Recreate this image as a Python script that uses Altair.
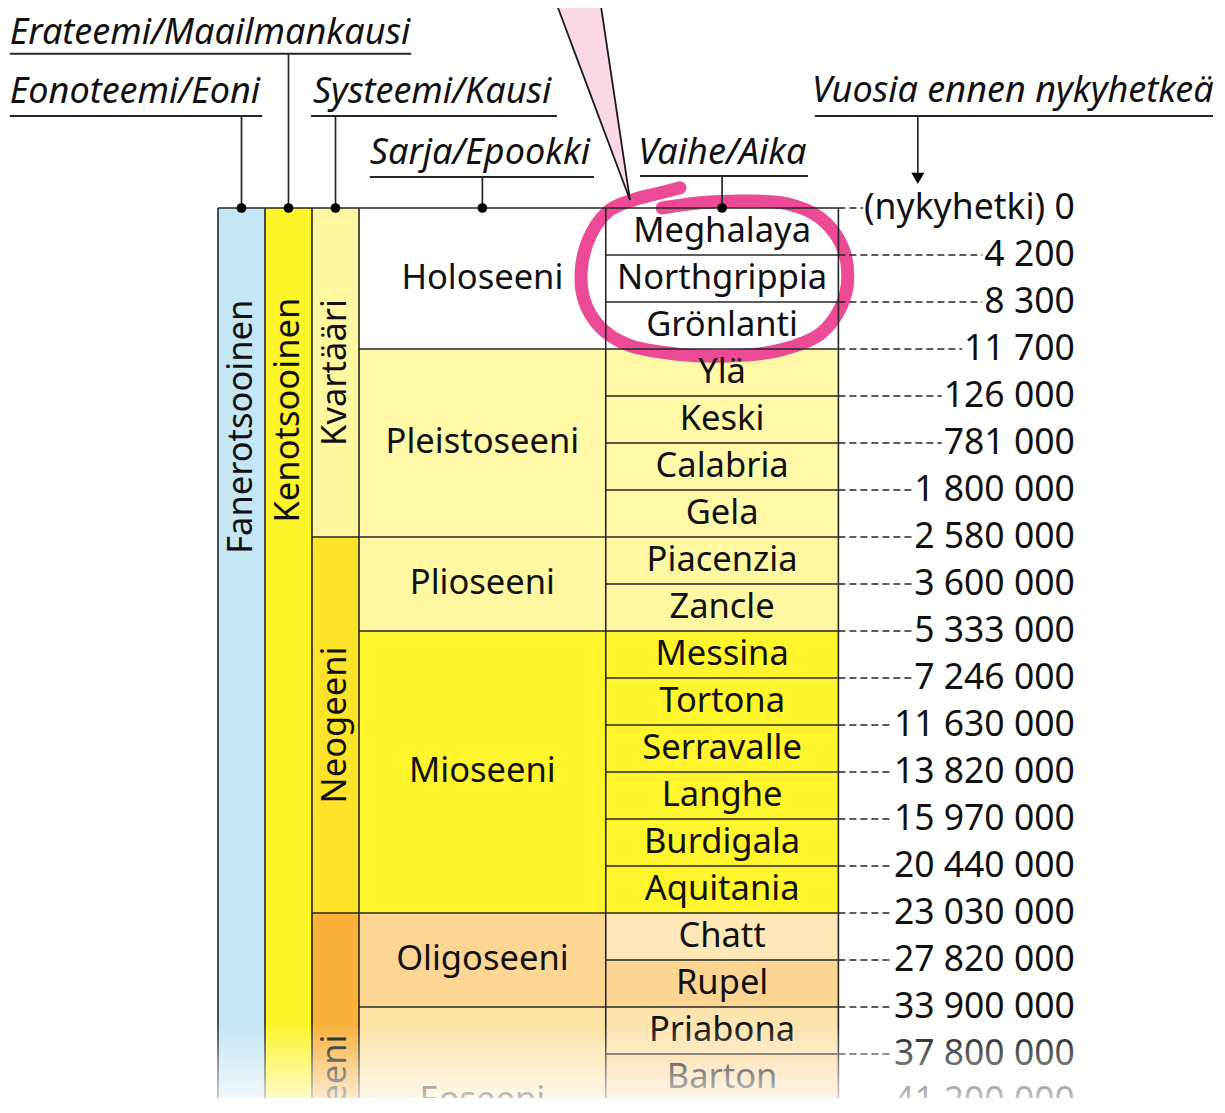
import altair as alt
import pandas as pd

# ---------------- data ----------------
stages = ["Meghalaya", "Northgrippia", "Grönlanti", "Ylä", "Keski", "Calabria", "Gela",
          "Piacenzia", "Zancle", "Messina", "Tortona", "Serravalle", "Langhe", "Burdigala",
          "Aquitania", "Chatt", "Rupel", "Priabona", "Barton", "Lutetia"]
stage_colors = ["#ffffff", "#ffffff", "#ffffff", "#fff9a8", "#fff9a8", "#fff9a8", "#fff9a8",
                "#fff8a2", "#fff8a2", "#fff52c", "#fff52c", "#fff52c", "#fff52c", "#fff52c",
                "#fff52c", "#fee8b8", "#fdd592", "#fde4ae", "#fdd9a0", "#fccd8e"]
boundary_labels = ["(nykyhetki) 0", "4 200", "8 300", "11 700", "126 000", "781 000",
                   "1 800 000", "2 580 000", "3 600 000", "5 333 000", "7 246 000",
                   "11 630 000", "13 820 000", "15 970 000", "20 440 000", "23 030 000",
                   "27 820 000", "33 900 000", "37 800 000", "41 200 000"]

epoch_names = ["Holoseeni", "Pleistoseeni", "Plioseeni", "Mioseeni", "Oligoseeni", "Eoseeni"]
epoch_start = [0, 3, 7, 9, 15, 17]
epoch_end = [3, 7, 9, 15, 17, 21]
epoch_colors = ["#ffffff", "#fff9a8", "#fff8a2", "#fff52c", "#fdd694", "#fde3a6"]

period_names = ["Kvartääri", "Neogeeni", "Paleogeeni"]
period_start = [0, 7, 15]
period_end = [7, 15, 24]
period_colors = ["#fff8a0", "#fde42a", "#f9b13a"]

era_names = ["Kenotsooinen"]
era_colors = ["#fdf42a"]
eon_names = ["Fanerotsooinen"]
eon_colors = ["#c5e6f3"]

header_text = ["Erateemi/Maailmankausi", "Eonoteemi/Eoni", "Systeemi/Kausi",
               "Sarja/Epookki", "Vaihe/Aika", "Vuosia ennen nykyhetkeä"]

# ---------------- layout (chart units: 1 column unit / 1 stage row) ----------------
W, H = 1205, 1090
PX = 47.0
X0, Y0 = 210.0, 200.0
xdom = [-X0 / PX, (W - X0) / PX]
ydom = [-Y0 / PX, (H - Y0) / PX]
xs = alt.Scale(domain=xdom, nice=False, zero=False)
ys = alt.Scale(domain=ydom, nice=False, zero=False, reverse=True)

col_edges = [0, 1, 2, 3, 8.25, 13.2]   # eon, era, period, epoch, stage
label_right = 18.23
BOTTOM = 24

FONT = "Noto Sans"
INK = "#111111"
LINE = "#262626"
TS = 34.5      # table text size
BS = 35.5      # boundary label size
HS = 36        # header size

# approximate Noto Sans advance widths (em/1000) for sizing the leader dashes
ADV = {"(": 296, ")": 296, " ": 260, "n": 613, "y": 500, "k": 525, "h": 613,
       "e": 561, "t": 361, "i": 258}


def text_w(s, size):
    return sum(ADV.get(ch, 572) for ch in s) * size / 1000.0


def X(f="x"):
    return alt.X(f"{f}:Q", scale=xs, axis=None)


def Y(f="y"):
    return alt.Y(f"{f}:Q", scale=ys, axis=None)


def X2(f="x2"):
    return alt.X2(f"{f}:Q")


def Y2(f="y2"):
    return alt.Y2(f"{f}:Q")


# ---------------- cells ----------------
cells = []
for i, (n, c) in enumerate(zip(stages, stage_colors)):
    cells.append(dict(x=col_edges[4], x2=col_edges[5], y=i, y2=i + 1, c=c))
for s, e, c in zip(epoch_start, epoch_end, epoch_colors):
    cells.append(dict(x=col_edges[3], x2=col_edges[4], y=s, y2=e, c=c))
for s, e, c in zip(period_start, period_end, period_colors):
    cells.append(dict(x=col_edges[2], x2=col_edges[3], y=s, y2=e, c=c))
cells.append(dict(x=col_edges[1], x2=col_edges[2], y=0, y2=BOTTOM, c=era_colors[0]))
cells.append(dict(x=col_edges[0], x2=col_edges[1], y=0, y2=BOTTOM, c=eon_colors[0]))
cells_df = pd.DataFrame(cells)
cell_layer = alt.Chart(cells_df).mark_rect(clip=True).encode(
    x=X(), x2=X2(), y=Y(), y2=Y2(), color=alt.Color("c:N", scale=None))

# ---------------- grid lines ----------------
segs = []
for e in col_edges:
    segs.append(dict(x=e, x2=e, y=0, y2=BOTTOM))
period_b = set(period_start[1:])
epoch_b = set(epoch_start[1:])
for b in range(len(boundary_labels)):
    if b == 0:
        xst = col_edges[0]
    elif b in period_b:
        xst = col_edges[2]
    elif b in epoch_b:
        xst = col_edges[3]
    else:
        xst = col_edges[4]
    segs.append(dict(x=xst, x2=col_edges[5], y=b, y2=b))
grid_layer = alt.Chart(pd.DataFrame(segs)).mark_rule(
    color=LINE, strokeWidth=1.6, clip=True).encode(x=X(), x2=X2(), y=Y(), y2=Y2())

dash_end = [label_right - (text_w(s, BS) + 2) / PX for s in boundary_labels]
dash_df = pd.DataFrame(dict(x=[col_edges[5]] * len(boundary_labels),
                            x2=dash_end,
                            y=list(range(len(boundary_labels)))))
dash_layer = alt.Chart(dash_df).mark_rule(
    color=LINE, strokeWidth=1.5, strokeDash=[7, 4], clip=True).encode(
    x=X(), x2=X2(), y=Y())

# ---------------- boundary labels ----------------
blab_df = pd.DataFrame(dict(t=boundary_labels, x=[label_right] * len(boundary_labels),
                            y=list(range(len(boundary_labels)))))
blab_halo = alt.Chart(blab_df).mark_text(
    font=FONT, fontSize=BS, align="right", baseline="middle", fill="white",
    stroke="white", strokeWidth=5, strokeJoin="round", clip=True).encode(
    x=X(), y=Y(), text="t:N")
blab = alt.Chart(blab_df).mark_text(
    font=FONT, fontSize=BS, align="right", baseline="middle", color=INK, clip=True).encode(
    x=X(), y=Y(), text="t:N")

# ---------------- cell labels ----------------
stage_df = pd.DataFrame(dict(t=stages, x=[(col_edges[4] + col_edges[5]) / 2] * len(stages),
                             y=[i + 0.5 for i in range(len(stages))]))
stage_txt = alt.Chart(stage_df).mark_text(
    font=FONT, fontSize=TS, align="center", baseline="middle", color=INK, clip=True).encode(
    x=X(), y=Y(), text="t:N")
epoch_df = pd.DataFrame(dict(t=epoch_names, x=[(col_edges[3] + col_edges[4]) / 2] * len(epoch_names),
                             y=[(s + e) / 2 for s, e in zip(epoch_start, epoch_end)]))
epoch_txt = alt.Chart(epoch_df).mark_text(
    font=FONT, fontSize=TS, align="center", baseline="middle", color=INK, clip=True).encode(
    x=X(), y=Y(), text="t:N")
period_df = pd.DataFrame(dict(t=period_names, x=[(col_edges[2] + col_edges[3]) / 2] * 3,
                              y=[(s + e) / 2 for s, e in zip(period_start, period_end)]))
period_txt = alt.Chart(period_df).mark_text(
    font=FONT, fontSize=TS, align="center", baseline="middle", angle=270, color=INK,
    clip=True).encode(x=X(), y=Y(), text="t:N")
top_df = pd.DataFrame(dict(t=eon_names + era_names, x=[0.5, 1.5], y=[1.95, 1.91]))
top_txt = alt.Chart(top_df).mark_text(
    font=FONT, fontSize=TS, align="right", baseline="middle", angle=270, color=INK,
    clip=True).encode(x=X(), y=Y(), text="t:N")

# ---------------- headers ----------------
head_x = [-4.43, -4.43, 2.02, 3.23, 8.94, 12.64]
head_y = [-3.49, -2.23, -2.23, -0.935, -0.935, -2.25]
ul_x = [-4.43, -4.43, 1.98, 3.23, 8.98, 12.70]
ul_x2 = [4.11, 0.94, 7.21, 8.00, 12.55, 21.17]
ul_y = [-3.28, -1.96, -1.96, -0.66, -0.68, -1.96]
conn_x = [1.5, 0.5, 2.5, (col_edges[3] + col_edges[4]) / 2, (col_edges[4] + col_edges[5]) / 2, 14.89]
conn_end = [0, 0, 0, 0, 0, -0.7]

head_df = pd.DataFrame(dict(t=header_text, x=head_x, y=head_y))
head_txt = alt.Chart(head_df).mark_text(
    font=FONT, fontSize=HS, fontStyle="italic", align="left", baseline="alphabetic",
    color=INK, clip=True).encode(x=X(), y=Y(), text="t:N")
ul_df = pd.DataFrame(dict(x=ul_x, x2=ul_x2, y=ul_y))
ul_layer = alt.Chart(ul_df).mark_rule(color=LINE, strokeWidth=2, clip=True).encode(
    x=X(), x2=X2(), y=Y())
conn_df = pd.DataFrame(dict(x=conn_x, y=ul_y, y2=conn_end))
conn_layer = alt.Chart(conn_df).mark_rule(color=LINE, strokeWidth=1.7, clip=True).encode(
    x=X(), y=Y(), y2=Y2())
dot_df = pd.DataFrame(dict(x=conn_x[:5], y=[0] * 5))
dot_layer = alt.Chart(dot_df).mark_point(
    shape="circle", filled=True, size=95, color="#000", opacity=1).encode(x=X(), y=Y())
arrow_df = pd.DataFrame(dict(x=[conn_x[5]], y=[-0.63]))
arrow_layer = alt.Chart(arrow_df).mark_point(
    shape="triangle-down", filled=True, size=170, color="#000", opacity=1).encode(x=X(), y=Y())

# ---------------- pink call-out ----------------
wedge_df = pd.DataFrame(dict(y=[-4.43, -0.17], x=[7.17, 8.766], x2=[8.128, 8.766]))
wedge = alt.Chart(wedge_df).mark_area(
    orient="horizontal", color="#fbd8e8", clip=True).encode(y=Y(), x=X(), x2=X2())
wedge_lines_df = pd.DataFrame(dict(x=[7.17, 8.128], y=[-4.43, -4.43], x2=[8.766, 8.766], y2=[-0.17, -0.17]))
wedge_lines = alt.Chart(wedge_lines_df).mark_rule(
    color="#1a1a1a", strokeWidth=1.8, clip=True).encode(x=X(), y=Y(), x2=X2(), y2=Y2())

loop_x = [9.83, 9.40, 8.83, 8.34, 7.96, 7.74, 7.79, 8.13, 8.72, 9.77, 10.83, 11.89, 12.81,
          13.26, 13.40, 13.26, 12.81, 12.11, 11.17, 10.26, 9.45]
loop_y = [-0.43, -0.32, -0.17, 0.04, 0.51, 1.21, 1.96, 2.53, 2.91, 3.11, 3.15, 3.04, 2.68,
          2.09, 1.47, 0.77, 0.21, -0.09, -0.15, -0.11, 0.0]
loop_df = pd.DataFrame(dict(x=loop_x, y=loop_y, i=list(range(len(loop_x)))))
loop = alt.Chart(loop_df).mark_line(
    color="#ec4a94", strokeWidth=13, strokeCap="round", strokeJoin="round",
    interpolate="catmull-rom", clip=True).encode(x=X(), y=Y(), order="i:Q")

# ---------------- bottom fade ----------------
fade_df = pd.DataFrame(dict(x=[xdom[0]], x2=[xdom[1]], y=[17.35], y2=[ydom[1]]))
fade = alt.Chart(fade_df).mark_rect(
    color=alt.Gradient(gradient="linear",
                       stops=[alt.GradientStop(offset=0, color="rgba(255,255,255,0)"),
                              alt.GradientStop(offset=1, color="rgba(255,255,255,0.75)")],
                       x1=0, x2=0, y1=0, y2=1),
    clip=True).encode(x=X(), x2=X2(), y=Y(), y2=Y2())

chart = alt.layer(
    cell_layer, wedge, loop, grid_layer, dash_layer, ul_layer, conn_layer,
    wedge_lines, dot_layer, arrow_layer,
    stage_txt, epoch_txt, period_txt, top_txt, blab_halo, blab, head_txt, fade
).properties(
    width=W, height=H, padding=0, autosize=alt.AutoSizeParams(type="none"),
    background="white"
).configure_view(stroke=None)

chart.save("out.html", embed_options={"renderer": "svg", "actions": False})
